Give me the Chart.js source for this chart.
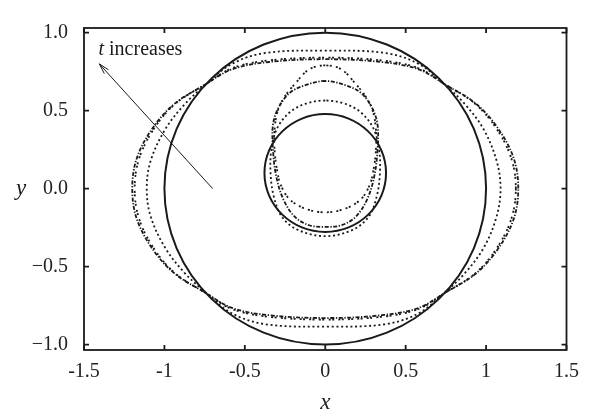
<!DOCTYPE html>
<html>
<head>
<meta charset="utf-8">
<script src="https://cdn.jsdelivr.net/npm/chart.js@4.4.1/dist/chart.umd.min.js"></script>
<style>
  html, body { margin: 0; padding: 0; background: #fff; }
  #wrap { width: 589px; height: 417px; }
</style>
</head>
<body>
<div id="wrap"><canvas id="chart" width="589" height="417"></canvas></div>
<script>
'use strict';

// axes
const X_TICKS       = [-1.5, -1, -0.5, 0, 0.5, 1, 1.5];
const X_TICK_LABELS = ['-1.5', '-1', '-0.5', '0', '0.5', '1', '1.5'];
const Y_TICKS       = [-1, -0.5, 0, 0.5, 1];
const Y_TICK_LABELS = ['−1.0', '−0.5', '0.0', '0.5', '1.0'];

// outer interface [x, y]
const OUTER_T0 = [
  [1, 0], [0.924, 0.383], [0.707, 0.707], [0.383, 0.924], [0, 1], [-0.383, 0.924], [-0.707, 0.707], [-0.924, 0.383],
  [-1, 0], [-0.924, -0.383], [-0.707, -0.707], [-0.383, -0.924], [0, -1], [0.383, -0.924], [0.707, -0.707], [0.924, -0.383],
];
const OUTER_T1 = [
  [1.09, 0], [1.065, 0.18], [0.985, 0.38], [0.87, 0.54], [0.75, 0.66], [0.58, 0.80], [0.37, 0.87], [0, 0.885],
  [-0.37, 0.87], [-0.58, 0.80], [-0.75, 0.66], [-0.875, 0.54], [-0.995, 0.38], [-1.085, 0.18], [-1.11, 0],
  [-1.085, -0.18], [-0.995, -0.38], [-0.875, -0.54], [-0.75, -0.66], [-0.58, -0.80], [-0.37, -0.87], [0, -0.885],
  [0.37, -0.87], [0.58, -0.80], [0.75, -0.66], [0.87, -0.54], [0.985, -0.38], [1.065, -0.18],
];
const OUTER_T2 = [
  [1.2, 0], [1.17, 0.2], [1.065, 0.4], [0.93, 0.55], [0.75, 0.665], [0.58, 0.765], [0.35, 0.812], [0, 0.83],
  [-0.35, 0.812], [-0.58, 0.765], [-0.75, 0.665], [-0.93, 0.55], [-1.065, 0.4], [-1.17, 0.2], [-1.2, 0],
  [-1.17, -0.2], [-1.065, -0.4], [-0.93, -0.55], [-0.75, -0.665], [-0.58, -0.765], [-0.35, -0.812], [0, -0.83],
  [0.35, -0.812], [0.58, -0.765], [0.75, -0.665], [0.93, -0.55], [1.065, -0.4], [1.17, -0.2],
];
const OUTER_T3 = [
  [1.185, 0], [1.155, 0.2], [1.055, 0.4], [0.925, 0.55], [0.75, 0.665], [0.58, 0.772], [0.35, 0.822], [0, 0.84],
  [-0.35, 0.822], [-0.58, 0.772], [-0.75, 0.665], [-0.925, 0.55], [-1.055, 0.4], [-1.155, 0.2], [-1.185, 0],
  [-1.155, -0.2], [-1.055, -0.4], [-0.925, -0.55], [-0.75, -0.665], [-0.58, -0.772], [-0.35, -0.822], [0, -0.84],
  [0.35, -0.822], [0.58, -0.772], [0.75, -0.665], [0.925, -0.55], [1.055, -0.4], [1.155, -0.2],
];

// inner bubble [x, y]
const INNER_T0 = [
  [0.378, 0.10], [0.349, 0.245], [0.267, 0.367], [0.145, 0.449], [0, 0.478], [-0.145, 0.449], [-0.267, 0.367], [-0.349, 0.245],
  [-0.378, 0.10], [-0.349, -0.045], [-0.267, -0.167], [-0.145, -0.249], [0, -0.278], [0.145, -0.249], [0.267, -0.167], [0.349, -0.045],
];
const INNER_T1 = [
  [0, 0.565], [-0.12, 0.545], [-0.22, 0.49], [-0.30, 0.385], [-0.335, 0.25], [-0.34, 0.10], [-0.32, -0.05], [-0.27, -0.18], [-0.17, -0.265],
  [0, -0.305], [0.17, -0.265], [0.27, -0.18], [0.32, -0.05], [0.34, 0.10], [0.335, 0.25], [0.30, 0.385], [0.22, 0.49], [0.12, 0.545],
];
const INNER_T2 = [
  [0, 0.69], [-0.12, 0.665], [-0.22, 0.615], [-0.29, 0.52], [-0.325, 0.41], [-0.325, 0.25], [-0.305, 0.08], [-0.26, -0.07], [-0.19, -0.18], [-0.10, -0.235],
  [0, -0.245], [0.10, -0.235], [0.19, -0.18], [0.26, -0.07], [0.305, 0.08], [0.325, 0.25], [0.325, 0.41], [0.29, 0.52], [0.22, 0.615], [0.12, 0.665],
];
const INNER_T3 = [
  [0, 0.79], [-0.10, 0.765], [-0.19, 0.67], [-0.255, 0.585], [-0.295, 0.50], [-0.315, 0.38], [-0.315, 0.25], [-0.30, 0.12], [-0.275, 0.02], [-0.22, -0.07], [-0.12, -0.13],
  [0, -0.152], [0.12, -0.13], [0.22, -0.07], [0.275, 0.02], [0.30, 0.12], [0.315, 0.25], [0.315, 0.38], [0.295, 0.50], [0.255, 0.585], [0.19, 0.67], [0.10, 0.765],
];

// annotation, in data units
const ARROW_FROM = [-0.70, 0.0];
const ARROW_TO   = [-1.405, 0.80];
const NOTE_AT    = [-1.41, 0.86];

const INK   = '#1a1a1a';
const SERIF = '"Liberation Serif", "DejaVu Serif", serif';

const STYLE = {
  solid:  { width: 2.0, dash: [] },
  dotted: { width: 1.8, dash: [2, 2.7] },
  dashdot:{ width: 1.8, dash: [4, 1.6, 1.3, 1.6] },
  pairs:  { width: 1.8, dash: [2, 1.4, 2, 4.2] },
};

// closed loop: pad both ends so the spline has neighbours, hide the padding
function closedCurve(points, style) {
  const pts = points.map(([x, y]) => ({ x, y }));
  const n = pts.length;
  const data = [pts[n - 1], ...pts, pts[0], pts[1]];
  const last = data.length - 2;
  return {
    data,
    showLine: true,
    fill: false,
    pointRadius: 0,
    pointHoverRadius: 0,
    tension: 0.35,
    borderColor: INK,
    borderWidth: style.width,
    borderDash: style.dash,
    segment: {
      borderColor: c => (c.p0DataIndex === 0 || c.p0DataIndex === last) ? 'rgba(0,0,0,0)' : undefined,
    },
  };
}

const framePlugin = {
  id: 'frame',
  afterDatasetsDraw(chart) {
    const { ctx, chartArea: a, scales: { x, y } } = chart;
    ctx.save();
    ctx.strokeStyle = INK;
    ctx.lineWidth = 1.8;
    ctx.strokeRect(a.left, a.top, a.right - a.left, a.bottom - a.top);

    // inward ticks on all four sides
    ctx.beginPath();
    X_TICKS.forEach(v => {
      const px = x.getPixelForValue(v);
      ctx.moveTo(px, a.bottom); ctx.lineTo(px, a.bottom - 5);
      ctx.moveTo(px, a.top);    ctx.lineTo(px, a.top + 5);
    });
    Y_TICKS.forEach(v => {
      const py = y.getPixelForValue(v);
      ctx.moveTo(a.left, py);  ctx.lineTo(a.left + 5, py);
      ctx.moveTo(a.right, py); ctx.lineTo(a.right - 5, py);
    });
    ctx.stroke();

    // arrow
    const x0 = x.getPixelForValue(ARROW_FROM[0]), y0 = y.getPixelForValue(ARROW_FROM[1]);
    const x1 = x.getPixelForValue(ARROW_TO[0]),   y1 = y.getPixelForValue(ARROW_TO[1]);
    const ang = Math.atan2(y1 - y0, x1 - x0);
    ctx.lineWidth = 1;
    ctx.beginPath();
    ctx.moveTo(x0, y0); ctx.lineTo(x1, y1);
    ctx.moveTo(x1 - 11 * Math.cos(ang - 0.26), y1 - 11 * Math.sin(ang - 0.26));
    ctx.lineTo(x1, y1);
    ctx.lineTo(x1 - 11 * Math.cos(ang + 0.26), y1 - 11 * Math.sin(ang + 0.26));
    ctx.stroke();

    // note
    ctx.fillStyle = INK;
    ctx.textBaseline = 'alphabetic';
    ctx.textAlign = 'left';
    const nx = x.getPixelForValue(NOTE_AT[0]), ny = y.getPixelForValue(NOTE_AT[1]);
    ctx.font = 'italic 20px ' + SERIF;
    ctx.fillText('t', nx, ny);
    const tw = ctx.measureText('t ').width;
    ctx.font = '20px ' + SERIF;
    ctx.fillText('increases', nx + tw, ny);

    // axis titles
    ctx.font = 'italic 23px ' + SERIF;
    ctx.textAlign = 'center';
    ctx.fillText('y', 21, y.getPixelForValue(0) + 6);
    ctx.fillText('x', x.getPixelForValue(0), 409);
    ctx.restore();
  },
};

new Chart(document.getElementById('chart'), {
  type: 'scatter',
  data: {
    datasets: [
      closedCurve(OUTER_T0, STYLE.solid),
      closedCurve(OUTER_T1, STYLE.dotted),
      closedCurve(OUTER_T2, STYLE.dashdot),
      closedCurve(OUTER_T3, STYLE.pairs),
      closedCurve(INNER_T0, STYLE.solid),
      closedCurve(INNER_T1, STYLE.dotted),
      closedCurve(INNER_T2, STYLE.dashdot),
      closedCurve(INNER_T3, STYLE.pairs),
    ],
  },
  options: {
    responsive: false,
    devicePixelRatio: 1,
    animation: false,
    events: [],
    layout: { padding: { left: 0, right: 16, top: 13, bottom: 0 } },
    plugins: { legend: { display: false }, tooltip: { enabled: false } },
    scales: {
      x: {
        type: 'linear', min: -1.5, max: 1.5,
        afterFit: s => { s.height = 67; },
        afterBuildTicks: s => { s.ticks = X_TICKS.map(v => ({ value: v })); },
        grid: { display: false, drawTicks: false },
        border: { display: false },
        ticks: {
          padding: 10, color: '#222', font: { family: SERIF, size: 20 }, maxRotation: 0,
          callback: (v, i) => X_TICK_LABELS[i],
        },
      },
      y: {
        type: 'linear', min: -1.035, max: 1.03,
        afterFit: s => { s.width = 84; },
        afterBuildTicks: s => { s.ticks = Y_TICKS.map(v => ({ value: v })); },
        grid: { display: false, drawTicks: false },
        border: { display: false },
        ticks: {
          padding: 16, color: '#222', font: { family: SERIF, size: 20 },
          callback: (v, i) => Y_TICK_LABELS[i],
        },
      },
    },
  },
  plugins: [framePlugin],
});
</script>
</body>
</html>
